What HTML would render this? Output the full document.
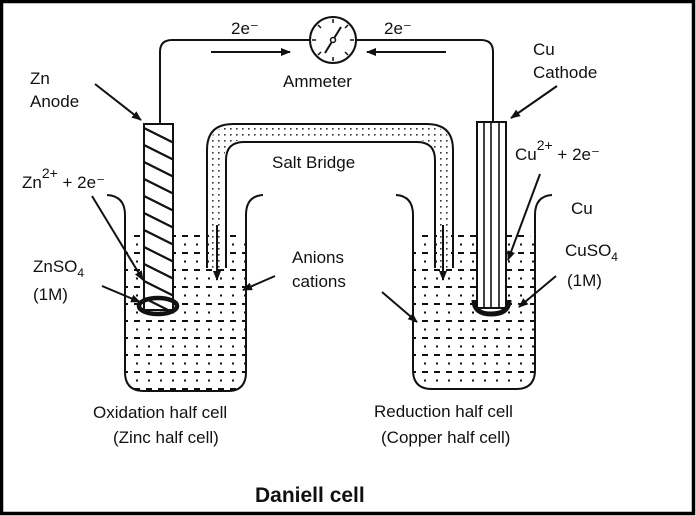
<!DOCTYPE html>
<html><head><meta charset="utf-8"><style>
html,body{margin:0;padding:0;background:#fff}
svg{display:block}
text{font-family:"Liberation Sans",Arial,sans-serif;fill:#111}
</style></head><body>
<svg width="696" height="516" viewBox="0 0 696 516" xmlns="http://www.w3.org/2000/svg">
<defs>
<marker id="ah" markerWidth="10" markerHeight="8" refX="9" refY="4" orient="auto" markerUnits="userSpaceOnUse">
<path d="M0,0 L10,4 L0,8 Z" fill="#111"/></marker>
<pattern id="liq" x="0" y="233" width="12" height="17" patternUnits="userSpaceOnUse">
<rect x="2" y="2" width="6" height="2" fill="#111"/>
<rect x="4" y="10.5" width="2" height="2" fill="#111"/>
</pattern>
<pattern id="dots" width="6" height="6" patternUnits="userSpaceOnUse">
<rect x="2" y="2" width="1.6" height="1.6" fill="#333"/></pattern>
<clipPath id="zn"><rect x="144" y="124" width="29" height="186"/></clipPath>
</defs>
<rect x="1.5" y="1.5" width="692" height="512" fill="#fff" stroke="#000" stroke-width="3.5"/>

<!-- wires -->
<path d="M160,124 V52 Q160,40 172,40 H309" fill="none" stroke="#111" stroke-width="2"/>
<path d="M357,40 H481 Q493,40 493,52 V122" fill="none" stroke="#111" stroke-width="2"/>
<line x1="211" y1="52" x2="290" y2="52" stroke="#111" stroke-width="2" marker-end="url(#ah)"/>
<line x1="446" y1="52" x2="367" y2="52" stroke="#111" stroke-width="2" marker-end="url(#ah)"/>
<!-- ammeter -->
<circle cx="333" cy="40" r="23" fill="#fff" stroke="#111" stroke-width="2"/>
<g stroke="#111" stroke-width="1.5">
<line x1="333" y1="19" x2="333" y2="23"/><line x1="333" y1="57" x2="333" y2="61"/>
<line x1="312" y1="40" x2="316" y2="40"/><line x1="350" y1="40" x2="354" y2="40"/>
<line x1="318" y1="25" x2="321" y2="28"/><line x1="345" y1="52" x2="348" y2="55"/>
<line x1="348" y1="25" x2="345" y2="28"/><line x1="318" y1="55" x2="321" y2="52"/>
<line x1="325" y1="53" x2="341" y2="27" stroke-width="2"/>
</g>
<circle cx="333" cy="40" r="2.5" fill="#fff" stroke="#111" stroke-width="1.5"/>
<text x="231" y="34" font-size="17">2e⁻</text>
<text x="384" y="34" font-size="17">2e⁻</text>
<text x="283" y="87" font-size="17">Ammeter</text>

<!-- beakers -->
<rect x="125" y="232" width="121" height="159" rx="16" fill="url(#liq)"/>
<rect x="413" y="232" width="122" height="157" rx="16" fill="url(#liq)"/>
<path d="M107,195 Q125,196 125,215 V372 Q125,391 144,391 H228 Q246,391 246,372 V215 Q246,196 263,195" fill="none" stroke="#111" stroke-width="2"/>
<path d="M396,195 Q413,196 413,215 V370 Q413,389 432,389 H516 Q535,389 535,370 V215 Q535,196 552,195" fill="none" stroke="#111" stroke-width="2"/>

<!-- salt bridge -->
<path d="M209,268 V150 Q209,126 233,126 H427 Q451,126 451,150 V268 H437 V160 Q437,140 417,140 H244 Q224,140 224,160 V268 Z" fill="#fff"/>
<path d="M209,268 V150 Q209,126 233,126 H427 Q451,126 451,150 V268 H437 V160 Q437,140 417,140 H244 Q224,140 224,160 V268 Z" fill="url(#dots)"/>
<path d="M207,268 V150 Q207,124 233,124 H427 Q453,124 453,150 V268" fill="none" stroke="#111" stroke-width="2"/>
<path d="M226,268 V160 Q226,142 244,142 H417 Q435,142 435,160 V268" fill="none" stroke="#111" stroke-width="2"/>
<text x="272" y="168" font-size="17">Salt Bridge</text>
<line x1="217" y1="225" x2="217" y2="280" stroke="#111" stroke-width="2" marker-end="url(#ah)"/>
<line x1="443" y1="225" x2="443" y2="280" stroke="#111" stroke-width="2" marker-end="url(#ah)"/>

<!-- Zn electrode -->
<rect x="144" y="124" width="29" height="186" fill="#fff"/>
<g clip-path="url(#zn)" stroke="#111" stroke-width="2.2">
<line x1="140" y1="126" x2="178" y2="145"/><line x1="140" y1="143" x2="178" y2="162"/>
<line x1="140" y1="160" x2="178" y2="179"/><line x1="140" y1="177" x2="178" y2="196"/>
<line x1="140" y1="194" x2="178" y2="213"/><line x1="140" y1="211" x2="178" y2="230"/>
<line x1="140" y1="228" x2="178" y2="247"/><line x1="140" y1="245" x2="178" y2="264"/>
<line x1="140" y1="262" x2="178" y2="281"/><line x1="140" y1="279" x2="178" y2="298"/>
<line x1="140" y1="296" x2="178" y2="315"/>
</g>
<rect x="144" y="124" width="29" height="186" fill="none" stroke="#111" stroke-width="2"/>
<ellipse cx="158" cy="306" rx="19" ry="8" fill="none" stroke="#111" stroke-width="4.5"/>

<!-- Cu electrode -->
<rect x="477" y="122" width="29" height="186" fill="#fff" stroke="#111" stroke-width="2"/>
<g stroke="#111" stroke-width="1.6">
<line x1="484" y1="122" x2="484" y2="308"/><line x1="491" y1="122" x2="491" y2="308"/><line x1="499" y1="122" x2="499" y2="308"/>
</g>
<path d="M474,300 Q474,314 491,314 Q509,314 509,300" fill="none" stroke="#111" stroke-width="5"/>

<!-- labels -->
<text x="30" y="84" font-size="17">Zn</text>
<text x="30" y="107" font-size="17">Anode</text>
<line x1="95" y1="84" x2="141" y2="120" stroke="#111" stroke-width="2" marker-end="url(#ah)"/>
<text x="22" y="188" font-size="17">Zn<tspan dy="-10" font-size="14">2+</tspan><tspan dy="10"> + 2e⁻</tspan></text>
<line x1="92" y1="196" x2="143" y2="280" stroke="#111" stroke-width="2" marker-end="url(#ah)"/>
<text x="33" y="272" font-size="17">ZnSO<tspan dy="5" font-size="12">4</tspan></text>
<text x="33" y="300" font-size="17">(1M)</text>
<line x1="102" y1="286" x2="140" y2="302" stroke="#111" stroke-width="2" marker-end="url(#ah)"/>

<text x="533" y="55" font-size="17">Cu</text>
<text x="533" y="78" font-size="17">Cathode</text>
<line x1="557" y1="86" x2="511" y2="118" stroke="#111" stroke-width="2" marker-end="url(#ah)"/>
<text x="515" y="160" font-size="17">Cu<tspan dy="-10" font-size="14">2+</tspan><tspan dy="10"> + 2e⁻</tspan></text>
<line x1="540" y1="174" x2="508" y2="260" stroke="#111" stroke-width="2" marker-end="url(#ah)"/>
<text x="571" y="214" font-size="17">Cu</text>
<text x="565" y="256" font-size="17">CuSO<tspan dy="5" font-size="12">4</tspan></text>
<text x="567" y="286" font-size="17">(1M)</text>
<line x1="556" y1="276" x2="519" y2="307" stroke="#111" stroke-width="2" marker-end="url(#ah)"/>

<text x="292" y="263" font-size="17">Anions</text>
<text x="292" y="287" font-size="17">cations</text>
<line x1="275" y1="276" x2="243" y2="290" stroke="#111" stroke-width="2" marker-end="url(#ah)"/>
<line x1="382" y1="292" x2="417" y2="322" stroke="#111" stroke-width="2" marker-end="url(#ah)"/>

<text x="93" y="418" font-size="17">Oxidation half cell</text>
<text x="113" y="443" font-size="17">(Zinc half cell)</text>
<text x="374" y="417" font-size="17">Reduction half cell</text>
<text x="381" y="443" font-size="17">(Copper half cell)</text>
<text x="255" y="502" font-size="21" font-weight="bold">Daniell cell</text>
</svg>
</body></html>
